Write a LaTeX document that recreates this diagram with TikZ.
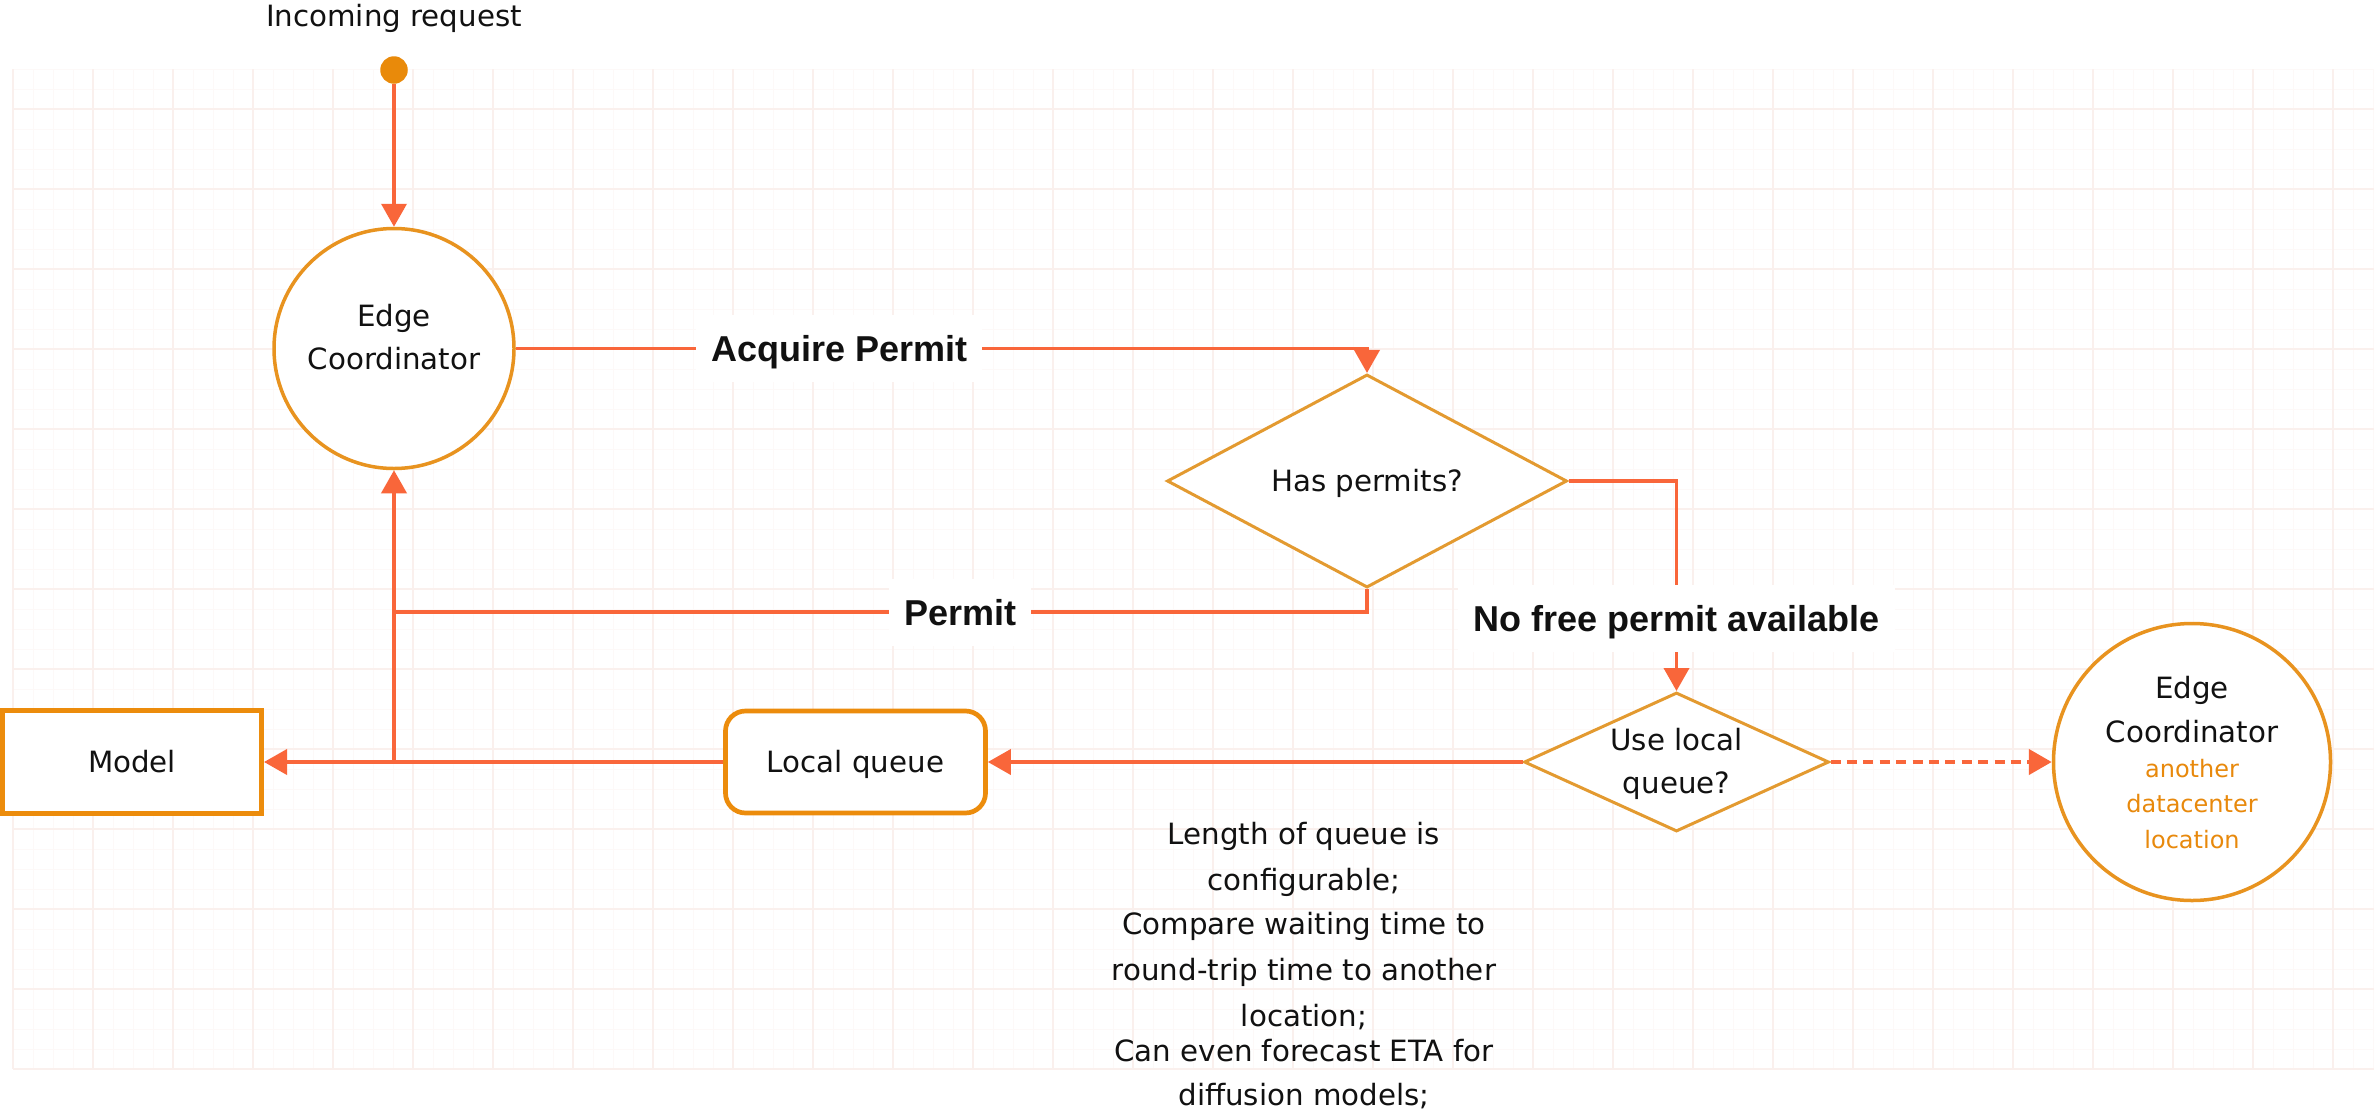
\documentclass[tikz,border=0pt]{standalone}
\usepackage{fontspec}
\setmainfont{DejaVu Sans}
\newfontfamily\labfont{Liberation Sans}
\usetikzlibrary{arrows.meta, shapes.geometric}

\definecolor{wire}{HTML}{F9663A}
\definecolor{shapeline}{HTML}{E8931F}
\definecolor{diamline}{HTML}{E39A30}
\definecolor{boxline}{HTML}{EC8C0C}
\definecolor{dotfill}{HTML}{E98A0A}
\definecolor{gridmajor}{HTML}{FAF0ED}
\definecolor{gridminor}{HTML}{FDF9F8}
\definecolor{ink}{HTML}{111111}
\definecolor{subtext}{HTML}{E8890C}

\begin{document}
\begin{tikzpicture}[x=1pt, y=-1pt,
  txt/.style={font=\fontsize{29.3}{35}\selectfont, text=ink, inner sep=0pt, anchor=base},
  notetxt/.style={txt},
  subtxt/.style={font=\fontsize{24}{29}\selectfont, text=subtext, inner sep=0pt, anchor=base},
  coordnode/.style={circle, draw=shapeline, line width=3.5pt, fill=white, inner sep=0pt},
  decision/.style={diamond, draw=diamline, line width=3pt, fill=white, inner sep=0pt,
    font=\fontsize{29.3}{35}\selectfont, text=ink, text height=21.4pt, text depth=0pt},
  plainbox/.style={rectangle, draw=boxline, line width=5pt, fill=white, inner sep=0pt,
    font=\fontsize{29.3}{35}\selectfont, text=ink, text height=21.4pt, text depth=0pt},
  queuebox/.style={plainbox, line width=4.7pt, rounded corners=20pt},
  wireline/.style={draw=wire, line width=3.8pt},
  flow/.style={wireline, -{Triangle[length=23pt, width=25pt]}},
  lbl/.style={fill=white, text=ink, font=\labfont\bfseries\fontsize{36}{43}\selectfont,
    text height=26pt, text depth=0pt, inner xsep=15pt, inner ysep=0pt, minimum height=67pt}
]
\useasboundingbox (0,0) rectangle (2374,1111);
\fill[white] (0,0) rectangle (2374,1111);

% background grid: fine lines every 20, strong lines every 80
\foreach \gx in {13,33,...,2373} \draw[gridminor, line width=1pt] (\gx,69) -- (\gx,1069);
\foreach \gy in {69,89,...,1069} \draw[gridminor, line width=1pt] (13,\gy) -- (2374,\gy);
\foreach \gx in {13,93,...,2333} \draw[gridmajor, line width=1.6pt] (\gx,69) -- (\gx,1069);
\foreach \gy in {109,189,...,1069} \draw[gridmajor, line width=1.6pt] (13,\gy) -- (2374,\gy);

% entry point
\node[circle, fill=dotfill, minimum size=27.5pt, inner sep=0pt] (src) at (394,70) {};
\node[txt] (srclbl) at (394,26) {Incoming request};

% local edge coordinator
\node[coordnode, minimum size=240pt] (ec1) at (394,348.5) {};
\node[txt] (ec1a) at (394,326.5) {Edge};
\node[txt] (ec1b) at (394,369) {Coordinator};

% permit check
\node[decision, minimum width=400pt, minimum height=200pt] (has) at (1367,481) {Has permits?};

% queue decision
\node[decision, minimum width=305pt, minimum height=139pt] (ul) at (1676.5,762) {};
\node[txt] (ula) at (1676.5,750) {Use local};
\node[txt] (ulb) at (1676.5,793) {queue?};

% model and queue
\node[plainbox, minimum width=259pt, minimum height=103pt] (model) at (132,762) {Model};
\node[queuebox, minimum width=260pt, minimum height=102pt] (lq) at (855.5,762) {Local queue};

% remote edge coordinator
\node[coordnode, minimum size=277pt] (ec2) at (2192,762) {};
\node[txt] (ec2a) at (2192,698.3) {Edge};
\node[txt] (ec2b) at (2192,742.3) {Coordinator};
\node[subtxt] (ec2c) at (2192,777) {another};
\node[subtxt] (ec2d) at (2192,812.5) {datacenter};
\node[subtxt] (ec2e) at (2192,848) {location};

% queue notes
\node[notetxt] (n1) at (1304,844.3) {Length of queue is};
\node[notetxt] (n2) at (1304,890) {configurable;};
\node[notetxt] (n3) at (1304,934.3) {Compare waiting time to};
\node[notetxt] (n4) at (1304,980) {round-trip time to another};
\node[notetxt] (n5) at (1304,1026) {location;};
\node[notetxt] (n6) at (1304,1061.7) {Can even forecast ETA for};
\node[notetxt] (n7) at (1304,1105) {diffusion models;};

% connectors
\coordinate (pj) at (394,612);
\coordinate (jq) at (ec1 |- lq.west);
\draw[flow] (src) -- (ec1);
\draw[flow] (ec1.east) -| node[lbl, pos=0.19] (acq) {Acquire Permit} (has.north);
\draw[wireline] (has.south) |- node[lbl, pos=0.709] (perm) {Permit} (pj);
\draw[flow] (jq) -- (ec1);
\draw[flow] (lq) -- (model);
\draw[flow] (ul) -- (lq);
\draw[flow] (has.east) -| node[lbl, pos=0.827] (nofree) {No free permit available} (ul.north);
\draw[flow, line width=4.5pt, dash pattern=on 10pt off 6.4pt] (ul) -- (ec2);
\end{tikzpicture}
\end{document}
